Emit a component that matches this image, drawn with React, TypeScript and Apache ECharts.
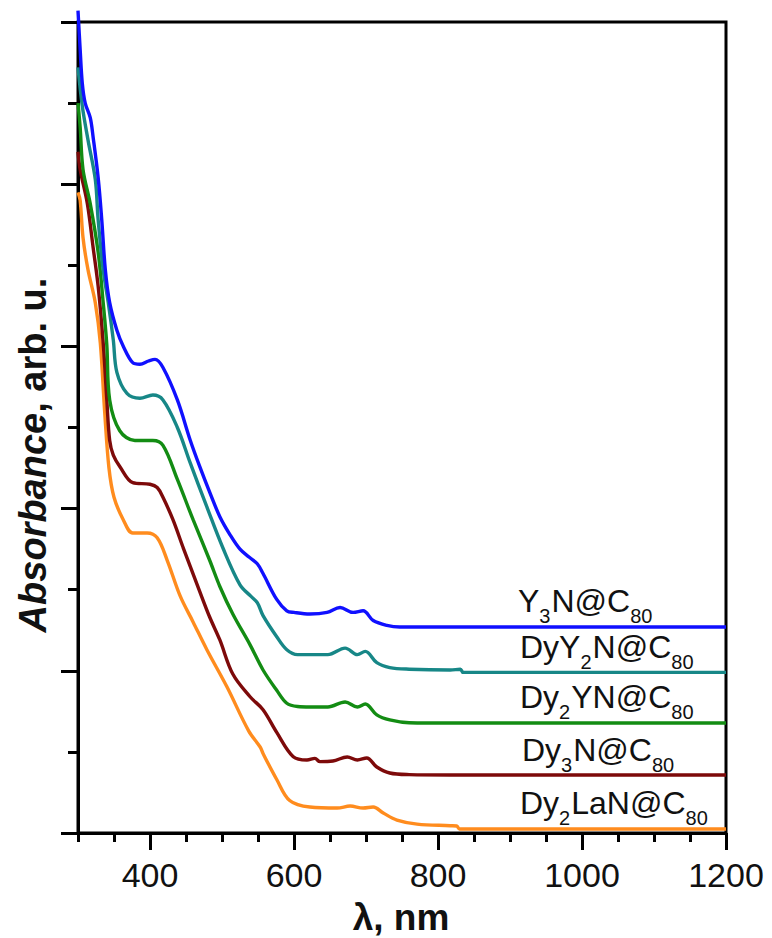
import React, { useEffect, useRef } from "react";
import * as echarts from "echarts";

// ---- data (wavelength nm, absorbance arb. u.) ----
const y3n: number[][] = [
  [300, 5.07], [303, 4.83], [306, 4.62], [310, 4.5], [317, 4.41], [321, 4.29], [328, 4.04],
  [333, 3.78], [338, 3.47], [344, 3.27], [354, 3.1], [363, 3.0], [376, 2.9], [386, 2.89],
  [398, 2.91], [407, 2.92], [418, 2.87], [438, 2.67], [456, 2.42], [469, 2.26], [483, 2.1],
  [497, 1.95], [511, 1.84], [525, 1.75], [538, 1.7], [549, 1.66], [557, 1.6], [576, 1.44],
  [590, 1.37], [600, 1.36], [622, 1.35], [646, 1.36], [664, 1.39], [682, 1.36], [696, 1.37],
  [710, 1.31], [729, 1.28], [747, 1.27], [817, 1.27], [1200, 1.27],
];
const dyy2n: number[][] = [
  [300, 4.72], [306, 4.48], [314, 4.27], [324, 4.03], [328, 3.78], [335, 3.47], [342, 3.27],
  [349, 3.04], [354, 2.84], [368, 2.71], [386, 2.68], [404, 2.7], [418, 2.67], [438, 2.5],
  [456, 2.28], [479, 2.01], [501, 1.76], [525, 1.53], [540, 1.46], [549, 1.42], [557, 1.34],
  [576, 1.21], [590, 1.13], [605, 1.1], [622, 1.1], [647, 1.1], [671, 1.14], [688, 1.1],
  [699, 1.12], [715, 1.05], [733, 1.02], [760, 1.01], [817, 1.005], [831, 1.01], [835, 0.99],
  [1200, 0.99],
];
const dy2yn: number[][] = [
  [300, 4.5], [303, 4.35], [307, 4.09], [317, 3.88], [328, 3.58], [335, 3.27], [340, 3.01],
  [344, 2.67], [358, 2.48], [379, 2.42], [404, 2.42], [418, 2.39], [438, 2.18], [460, 1.93],
  [483, 1.68], [497, 1.52], [515, 1.35], [539, 1.16], [557, 1.005], [576, 0.88],
  [590, 0.8], [605, 0.78], [622, 0.777], [647, 0.777], [671, 0.808], [688, 0.777], [699, 0.795],
  [715, 0.728], [733, 0.697], [760, 0.68], [817, 0.678], [1200, 0.678],
];
const dy3n: number[][] = [
  [300, 4.2], [303, 4.09], [313, 3.88], [321, 3.61], [328, 3.37], [335, 3.02], [340, 2.67],
  [344, 2.42], [349, 2.33], [358, 2.26], [376, 2.16], [400, 2.15], [410, 2.13], [418, 2.07],
  [432, 1.93], [446, 1.76], [469, 1.49], [483, 1.33], [497, 1.19], [515, 0.98], [539, 0.84],
  [557, 0.76], [576, 0.62], [599, 0.47], [618, 0.45], [629, 0.46], [636, 0.44], [654, 0.444],
  [674, 0.469], [688, 0.45], [701, 0.462], [715, 0.407], [733, 0.37], [760, 0.36], [817, 0.358],
  [1200, 0.358],
];
const dy2lan: number[][] = [
  [300, 3.95], [303, 3.9], [307, 3.67], [314, 3.47], [324, 3.27], [331, 3.02], [337, 2.6],
  [343, 2.25], [350, 2.07], [363, 1.93], [376, 1.85], [396, 1.85], [410, 1.82], [424, 1.68],
  [442, 1.46], [460, 1.3], [479, 1.13], [507, 0.9], [537, 0.63], [553, 0.53], [557, 0.49],
  [576, 0.33], [594, 0.2], [622, 0.16], [660, 0.154], [678, 0.166], [696, 0.154], [710, 0.16],
  [724, 0.123], [743, 0.08], [771, 0.055], [817, 0.045], [826, 0.043], [830, 0.025], [1200, 0.025],
];

const seriesNames = ["Y3N@C80", "DyY2N@C80", "Dy2YN@C80", "Dy3N@C80", "Dy2LaN@C80"];
// alternating pieces: normal, subscript, normal, subscript
const labelPieces = [
  ["Y", "3", "N@C", "80"],
  ["DyY", "2", "N@C", "80"],
  ["Dy", "2", "YN@C", "80"],
  ["Dy", "3", "N@C", "80"],
  ["Dy", "2", "LaN@C", "80"],
];
const seriesData = [y3n, dyy2n, dy2yn, dy3n, dy2lan];
const seriesColors = ["#1010ff", "#178787", "#138c13", "#7d0a0a", "#ff8c1e"];

const xLabelValues = [400, 600, 800, 1000, 1200];
const xMinorValues = [
  300, 350, 400, 450, 500, 550, 600, 650, 700, 750, 800, 850, 900, 950, 1000, 1050, 1100, 1150, 1200,
];

const FONT = "'Liberation Sans', Arial, Helvetica, sans-serif";
const MAIN_SIZE = 32;
const SUB_SIZE = 20;
const SUB_DROP = 15;

function measure(text: string, size: number): number {
  const c = document.createElement("canvas");
  const ctx = c.getContext("2d");
  if (!ctx) return text.length * size * 0.6;
  ctx.font = `${size}px 'Liberation Sans', Arial, sans-serif`;
  return ctx.measureText(text).width;
}

function buildLabel(pieces: string[], x: number, y: number) {
  const children: any[] = [];
  let cx = 0;
  pieces.forEach((p, k) => {
    const isSub = k % 2 === 1;
    const size = isSub ? SUB_SIZE : MAIN_SIZE;
    children.push({
      type: "text",
      x: cx,
      y: isSub ? SUB_DROP : 0,
      style: {
        text: p,
        fontSize: size,
        fontFamily: FONT,
        fill: "#111",
        align: "left",
        verticalAlign: "middle",
      },
    });
    cx += measure(p, size) + (isSub ? 1 : 0);
  });
  return { type: "group", x, y, z: 100, children };
}

export default function App() {
  const ref = useRef<HTMLDivElement>(null);

  useEffect(() => {
    document.body.style.margin = "0";
    if (!ref.current) return;
    const chart = echarts.init(ref.current, undefined, { renderer: "svg" });

    const labelPos = [
      [518, 601],
      [520, 647],
      [520, 697],
      [522, 750],
      [520, 803],
    ];

    const option: any = {
      animation: false,
      backgroundColor: "#fff",
      grid: {
        left: 78,
        right: 46,
        top: 22,
        bottom: 105,
        show: true,
        borderColor: "#000",
        borderWidth: 3,
        backgroundColor: "transparent",
      },
      xAxis: [
        {
          type: "value",
          min: 300,
          max: 1200,
          interval: 50,
          position: "bottom",
          axisLine: { show: true, onZero: false, lineStyle: { color: "#000", width: 3 } },
          axisTick: {
            show: true,
            customValues: xLabelValues,
            length: 17,
            lineStyle: { color: "#000", width: 3 },
          },
          axisLabel: {
            show: true,
            customValues: xLabelValues,
            formatter: (v: number) => String(v),
            margin: 25,
            fontSize: 34,
            color: "#111",
            fontFamily: FONT,
          },
          splitLine: { show: false },
        },
        {
          type: "value",
          min: 300,
          max: 1200,
          interval: 50,
          position: "bottom",
          axisLine: { show: false, onZero: false },
          axisTick: {
            show: true,
            customValues: xMinorValues,
            length: 9,
            lineStyle: { color: "#000", width: 3 },
          },
          axisLabel: { show: false },
          splitLine: { show: false },
        },
      ],
      yAxis: {
        type: "value",
        min: 0,
        max: 5,
        interval: 1,
        axisLine: { show: true, onZero: false, lineStyle: { color: "#000", width: 3 } },
        axisTick: { show: true, length: 17, lineStyle: { color: "#000", width: 3 } },
        minorTick: { show: true, splitNumber: 2, length: 10, lineStyle: { color: "#000", width: 3 } },
        axisLabel: { show: false },
        splitLine: { show: false },
      },
      series: seriesData.map((d, i) => ({
        name: seriesNames[i],
        type: "line",
        data: d,
        showSymbol: false,
        smooth: 0.35,
        clip: i !== 0,
        z: 10 - i,
        lineStyle: { color: seriesColors[i], width: 3.4 },
        itemStyle: { color: seriesColors[i] },
      })),
      graphic: [
        ...labelPieces.map((p, i) => buildLabel(p, labelPos[i][0], labelPos[i][1])),
        {
          type: "text",
          x: 33,
          y: 455,
          rotation: Math.PI / 2,
          z: 100,
          style: {
            text: "{i|Absorbance}{n|, arb. u.}",
            align: "center",
            verticalAlign: "middle",
            fill: "#111",
            rich: {
              i: { fontSize: 38, fontWeight: "bold", fontStyle: "italic", fontFamily: FONT, fill: "#111" },
              n: { fontSize: 38, fontWeight: "bold", fontFamily: FONT, fill: "#111" },
            },
          },
        },
        {
          type: "text",
          x: 401,
          y: 917,
          z: 100,
          style: {
            text: "λ, nm",
            align: "center",
            verticalAlign: "middle",
            fill: "#111",
            fontSize: 37,
            fontWeight: "bold",
            fontFamily: FONT,
          },
        },
      ],
    };

    chart.setOption(option);
    return () => chart.dispose();
  }, []);

  return <div ref={ref} style={{ width: 772, height: 938 }} />;
}
